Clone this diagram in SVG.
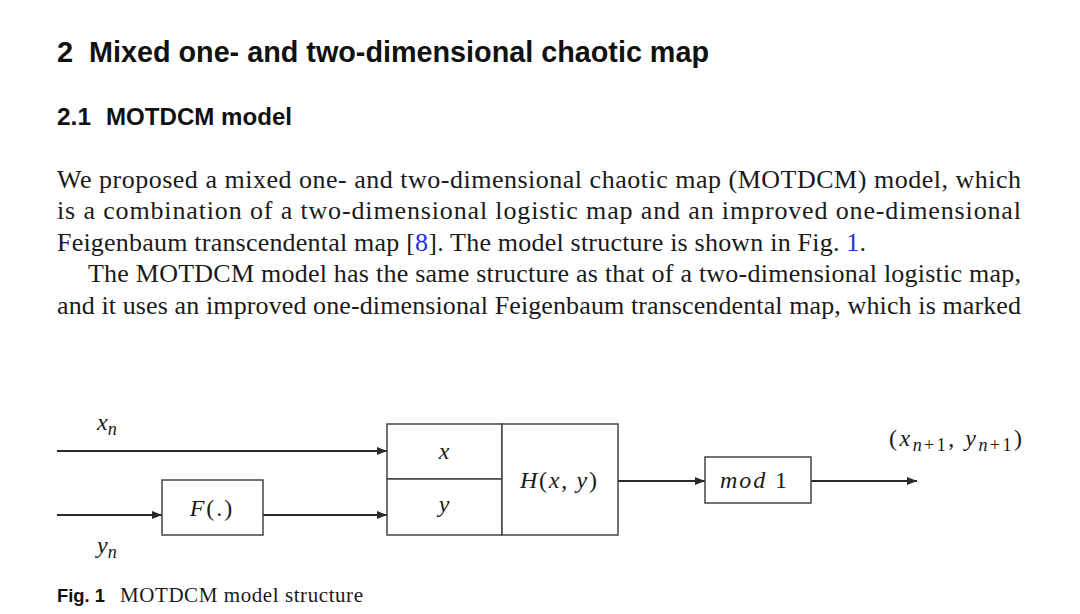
<svg xmlns="http://www.w3.org/2000/svg" width="1080" height="614" viewBox="0 0 1080 614">
<defs>
<style>
.h{font-family:"Liberation Sans","Open Sans",sans-serif;font-weight:bold;fill:#111}
.b{font-family:"Liberation Serif","DejaVu Serif",serif;font-size:26px;fill:#1a1a1a}
.m{font-family:"Liberation Serif","DejaVu Serif",serif;font-style:italic;font-size:24px;fill:#1a1a1a}
.s{font-size:18px}
.u{font-style:normal}
.box{fill:#fff;stroke:#444;stroke-width:1.5}
.ln{stroke:#2a2a2a;stroke-width:1.8;fill:none}
.lnk{fill:#2233dd}
</style>
<marker id="ah" viewBox="0 0 10 8" refX="10" refY="4" markerWidth="10" markerHeight="8" markerUnits="userSpaceOnUse" orient="auto">
<path d="M0,0 L10,4 L0,8 Z" fill="#2a2a2a"/>
</marker>
</defs>
<rect width="1080" height="614" fill="#fff"/>

<text class="h" x="57" y="62" font-size="29">2</text>
<text class="h" x="89" y="62" font-size="29" textLength="620" lengthAdjust="spacingAndGlyphs">Mixed one- and two-dimensional chaotic map</text>
<text class="h" x="57" y="125" font-size="23" textLength="34" lengthAdjust="spacingAndGlyphs">2.1</text>
<text class="h" x="106" y="125" font-size="23" textLength="186" lengthAdjust="spacingAndGlyphs">MOTDCM model</text>

<text class="b" x="57" y="188" textLength="964">We proposed a mixed one- and two-dimensional chaotic map (MOTDCM) model, which</text>
<text class="b" x="57" y="219" textLength="964">is a combination of a two-dimensional logistic map and an improved one-dimensional</text>
<text class="b" x="57" y="251" textLength="809">Feigenbaum transcendental map [<tspan class="lnk">8</tspan>]. The model structure is shown in Fig. <tspan class="lnk">1</tspan>.</text>
<text class="b" x="88" y="282" textLength="933">The MOTDCM model has the same structure as that of a two-dimensional logistic map,</text>
<text class="b" x="57" y="314" textLength="964">and it uses an improved one-dimensional Feigenbaum transcendental map, which is marked</text>

<g id="connectors">
<line class="ln" x1="57" y1="451" x2="387" y2="451" marker-end="url(#ah)"/>
<line class="ln" x1="57" y1="515" x2="162" y2="515" marker-end="url(#ah)"/>
<line class="ln" x1="263" y1="515" x2="387" y2="515" marker-end="url(#ah)"/>
<line class="ln" x1="618" y1="481" x2="705" y2="481" marker-end="url(#ah)"/>
<line class="ln" x1="811" y1="481" x2="917" y2="481" marker-end="url(#ah)"/>
</g>

<g id="label-xn"><text class="m" x="97" y="430">x<tspan class="s" dy="5">n</tspan></text></g>
<g id="label-yn"><text class="m" x="97" y="553">y<tspan class="s" dy="5">n</tspan></text></g>

<g id="node-F">
<rect class="box" x="162" y="480" width="101" height="55"/>
<text class="m" x="212" y="516" text-anchor="middle" letter-spacing="2">F<tspan class="u">(.)</tspan></text>
</g>

<g id="node-x">
<rect class="box" x="387" y="424" width="115" height="55"/>
<text class="m" x="444" y="459" text-anchor="middle">x</text>
</g>
<g id="node-y">
<rect class="box" x="387" y="479" width="115" height="56"/>
<text class="m" x="444" y="512" text-anchor="middle">y</text>
</g>

<g id="node-H">
<rect class="box" x="502" y="424" width="116" height="111"/>
<text class="m" x="520" y="488" textLength="77">H<tspan class="u">(</tspan>x<tspan class="u">, </tspan>y<tspan class="u">)</tspan></text>
</g>

<g id="node-mod">
<rect class="box" x="705" y="457" width="106" height="46"/>
<text class="m" x="720" y="488" textLength="67">mod <tspan class="u">1</tspan></text>
</g>

<g id="label-out"><text class="m" x="889" y="446" textLength="133"><tspan class="u">(</tspan>x<tspan class="s" dy="5">n<tspan class="u">+1</tspan></tspan><tspan dy="-5" class="u">, </tspan>y<tspan class="s" dy="5">n<tspan class="u">+1</tspan></tspan><tspan dy="-5" class="u">)</tspan></text></g>

<text class="h" x="57" y="602" font-size="19" textLength="48" lengthAdjust="spacingAndGlyphs">Fig. 1</text>
<text class="b" x="120" y="602" style="font-size:21px" textLength="243">MOTDCM model structure</text>
</svg>
